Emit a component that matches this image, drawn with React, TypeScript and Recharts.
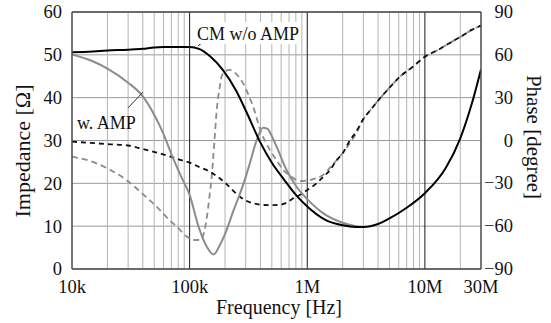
import React from 'react';
import { LineChart, Line, XAxis, YAxis, CartesianGrid, ReferenceLine } from 'recharts';

const FONT = 'Liberation Serif, DejaVu Serif, serif';

// CM w/o AMP, impedance [ohm]
const cmFreq = [1e4, 1.5e4, 2e4, 3e4, 4e4, 5e4, 6e4, 8e4, 1e5, 1.2e5, 1.5e5, 1.9e5, 2.5e5, 3e5, 4e5, 5e5, 6.3e5, 8e5, 1e6, 1.4e6, 2e6, 2.6e6, 3e6, 4e6, 5e6, 7e6, 1e7, 1.5e7, 2e7, 2.5e7, 3e7];
const cmImpedance = [50.6, 50.8, 51.0, 51.2, 51.4, 51.7, 51.8, 51.8, 51.8, 51.4, 49.6, 46.6, 41.5, 37.0, 29.5, 24.8, 21.0, 17.3, 14.6, 11.6, 10.2, 9.8, 9.8, 10.5, 11.8, 14.3, 17.7, 23.5, 30.5, 38.5, 46.6];

// w. AMP, impedance [ohm]
const ampFreq = [1e4, 1.5e4, 2e4, 3e4, 4e4, 5e4, 6e4, 7.2e4, 8.5e4, 1e5, 1.2e5, 1.4e5, 1.6e5, 1.8e5, 2.06e5, 2.35e5, 2.67e5, 3e5, 3.25e5, 3.71e5, 4.2e5, 4.6e5, 5e5, 5.5e5, 6.67e5, 8.11e5, 1e6, 1.4e6, 2e6, 2.6e6, 3e6];
const ampImpedance = [50.1, 48.5, 46.8, 43.5, 40.3, 36.0, 31.5, 26.0, 21.5, 17.3, 9.6, 5.2, 3.4, 5.5, 9.1, 13.5, 17.5, 21.5, 24.7, 30.0, 33.0, 32.7, 31.0, 28.5, 23.1, 19.2, 16.3, 12.8, 10.8, 10.0, 9.8];

// CM w/o AMP, phase [degree]
const cmPhaseFreq = [1e4, 2e4, 3e4, 4e4, 5.6e4, 7e4, 8.3e4, 1e5, 1.2e5, 1.5e5, 1.8e5, 2.06e5, 2.4e5, 2.67e5, 3e5, 3.47e5, 4e5, 4.8e5, 5.85e5, 6.7e5, 7.6e5, 8.7e5, 1e6, 1.2e6, 1.37e6, 1.55e6, 1.77e6, 2e6, 2.3e6, 2.6e6, 3e6, 3.5e6, 4.1e6, 5e6, 6.1e6, 8e6, 1e7, 1.3e7, 1.6e7, 2e7, 2.5e7, 3e7];
const cmPhase = [-0.8, -2.5, -3.5, -6, -9, -11.5, -13.5, -15.5, -18.5, -22, -26.5, -30.5, -36, -39.4, -42, -44, -45, -45.3, -45, -43.5, -40.5, -38, -34.7, -30, -25.4, -21, -14, -9, 0, 6, 15, 22, 29, 37, 44.5, 52, 58.7, 63.5, 68, 72.5, 77.5, 80.5];

// w. AMP, phase [degree]
const ampPhaseFreq = [1e4, 1.5e4, 2.1e4, 2.9e4, 4e4, 5.6e4, 6.6e4, 7.8e4, 9.5e4, 1.07e5, 1.25e5, 1.33e5, 1.39e5, 1.47e5, 1.54e5, 1.62e5, 1.7e5, 1.8e5, 1.87e5, 2e5, 2.2e5, 2.5e5, 2.85e5, 3.2e5, 3.47e5, 3.8e5, 4.08e5, 4.5e5, 4.81e5, 5.5e5, 6.24e5, 7.11e5, 8.65e5, 1.05e6, 1.37e6, 1.6e6, 1.89e6, 2.3e6, 2.6e6, 3e6, 3.5e6, 4.1e6, 5e6, 6.1e6, 8e6, 1e7, 1.3e7, 1.6e7, 2e7, 2.5e7, 3e7];
const ampPhase = [-11.3, -15, -20.5, -27.7, -37.5, -48.7, -55, -60.4, -67.4, -69.7, -69.5, -64, -55.7, -40, -25.4, -2, 21.4, 37, 44.7, 48.5, 49.4, 46.5, 40, 31, 23.7, 13, 5, -2, -6.6, -14, -20.6, -24.5, -28.5, -27.6, -24, -18, -11.3, -2, 5, 15, 22, 29, 37, 44.5, 52, 58.7, 63.5, 68, 72.5, 77.5, 80.5];

// axes
const xTicks = [1e4, 1e5, 1e6, 1e7, 3e7];
const xTickLabels = ['10k', '100k', '1M', '10M', '30M'];
const impTicks = [0, 10, 20, 30, 40, 50, 60];
const phaseTicks = [-90, -60, -30, 0, 30, 60, 90];
const decadeLines = [1e5, 1e6, 1e7];
const minorLines = [
  2e4, 3e4, 4e4, 5e4, 6e4, 7e4, 8e4, 9e4,
  2e5, 3e5, 4e5, 5e5, 6e5, 7e5, 8e5, 9e5,
  2e6, 3e6, 4e6, 5e6, 6e6, 7e6, 8e6, 9e6,
  2e7,
];

const toPoints = (freq: number[], vals: number[]) => freq.map((f, i) => ({ f, v: vals[i] }));

const cmImpData = toPoints(cmFreq, cmImpedance);
const ampImpData = toPoints(ampFreq, ampImpedance);
const cmPhaseData = toPoints(cmPhaseFreq, cmPhase);
const ampPhaseData = toPoints(ampPhaseFreq, ampPhase);

const BORDER = '#4a4a4a';
const GRAY = '#8c8c8c';
const txt = { fontFamily: FONT };

const XTick = ({ x, y, payload }: any) => (
  <text x={x} y={y} dy={24} textAnchor="middle" style={txt} fontSize={18.5} fill="#111">
    {xTickLabels[xTicks.indexOf(payload.value)]}
  </text>
);

const LeftTick = ({ x, y, payload }: any) => (
  <text x={x} y={y} dy="0.35em" textAnchor="end" style={txt} fontSize={18.5} fill="#111">
    {payload.value}
  </text>
);

const RightTick = ({ x, y, payload }: any) => (
  <text x={x + 32} y={y} dy="0.33em" textAnchor="end" style={txt} fontSize={18.5} fill="#111">
    {payload.value < 0 ? `\u2212${-payload.value}` : payload.value}
  </text>
);

export default function App() {
  return (
    <div style={{ position: 'relative', width: 551, height: 323, background: '#fff' }}>
      <style>{'body{margin:0;background:#fff}'}</style>
      <LineChart width={551} height={323} margin={{ top: 12, right: 0, bottom: 0, left: 0 }}>
        <CartesianGrid yAxisId="imp" vertical={false} stroke="#9a9a9a" strokeWidth={1} />
        {minorLines.map((f) => (
          <ReferenceLine key={`m${f}`} x={f} yAxisId="imp" stroke="#b4b4b4" strokeWidth={1} />
        ))}
        {decadeLines.map((f) => (
          <ReferenceLine key={`d${f}`} x={f} yAxisId="imp" stroke="#1a1a1a" strokeWidth={1} />
        ))}
        <ReferenceLine y={60} yAxisId="imp" stroke={BORDER} strokeWidth={1.5} />
        <XAxis
          dataKey="f"
          type="number"
          scale="log"
          domain={[1e4, 3e7]}
          ticks={xTicks}
          interval={0}
          allowDataOverflow
          height={54}
          tickSize={0}
          tickMargin={0}
          tick={<XTick />}
          axisLine={{ stroke: BORDER, strokeWidth: 1.5 }}
          tickLine={false}
        />
        <YAxis
          yAxisId="imp"
          domain={[0, 60]}
          ticks={impTicks}
          interval={0}
          width={72}
          tickSize={0}
          tickMargin={10}
          tick={<LeftTick />}
          axisLine={{ stroke: BORDER, strokeWidth: 1.5 }}
          tickLine={false}
        />
        <YAxis
          yAxisId="phase"
          orientation="right"
          domain={[-90, 90]}
          ticks={phaseTicks}
          interval={0}
          width={70}
          tickSize={0}
          tickMargin={0}
          tick={<RightTick />}
          axisLine={{ stroke: BORDER, strokeWidth: 1.5 }}
          tickLine={false}
        />
        <Line data={ampPhaseData} dataKey="v" yAxisId="phase" type="monotone" stroke={GRAY} strokeWidth={1.8} strokeDasharray="6 4" dot={false} isAnimationActive={false} />
        <Line data={cmPhaseData} dataKey="v" yAxisId="phase" type="monotone" stroke="#111" strokeWidth={1.8} strokeDasharray="5 4" dot={false} isAnimationActive={false} />
        <Line data={ampImpData} dataKey="v" yAxisId="imp" type="monotone" stroke={GRAY} strokeWidth={2} dot={false} isAnimationActive={false} />
        <Line data={cmImpData} dataKey="v" yAxisId="imp" type="monotone" stroke="#000" strokeWidth={2} dot={false} isAnimationActive={false} />
        <ReferenceLine yAxisId="imp" segment={[{ x: 1.18e5, y: 52.1 }, { x: 1.35e5, y: 53.3 }]} stroke="#222" strokeWidth={1} />
        <ReferenceLine yAxisId="imp" segment={[{ x: 2.99e4, y: 37.6 }, { x: 4.01e4, y: 41.3 }]} stroke="#333" strokeWidth={1} />
      </LineChart>
      <svg width={551} height={323} style={{ position: 'absolute', left: 0, top: 0, pointerEvents: 'none' }}>
        <rect x={196} y={22} width={104} height={22} fill="#fff" />
        <text x={197} y={40} style={txt} fontSize={18} fill="#111">CM w/o AMP</text>
        <text x={77} y={129} style={txt} fontSize={18} fill="#111">w. AMP</text>
        <text x={279} y={314} textAnchor="middle" style={txt} fontSize={20} fill="#111">Frequency [Hz]</text>
        <text transform="translate(30,151) rotate(-90)" textAnchor="middle" style={txt} fontSize={22} fill="#111">Impedance [Ω]</text>
        <text transform="translate(527,137) rotate(90)" textAnchor="middle" style={txt} fontSize={21} fill="#111">Phase [degree]</text>
      </svg>
    </div>
  );
}
